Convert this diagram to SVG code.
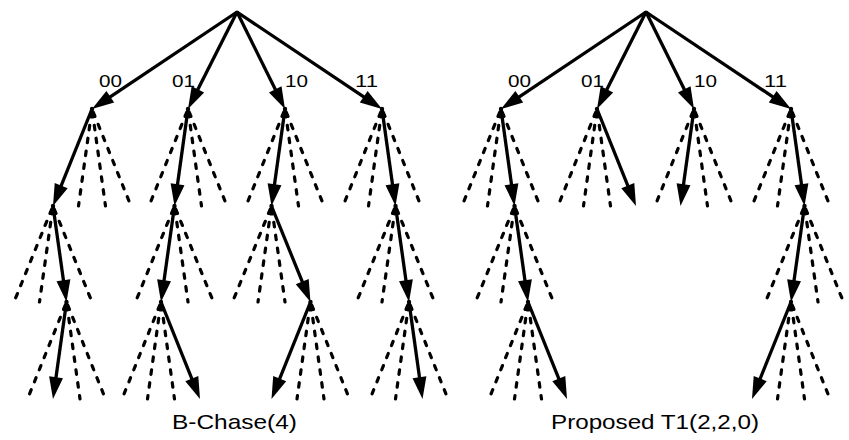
<svg xmlns="http://www.w3.org/2000/svg" width="849" height="440" viewBox="0 0 849 440">
<defs>
<marker id="ah" markerUnits="userSpaceOnUse" markerWidth="22" markerHeight="14" refX="22" refY="7" orient="auto" overflow="visible">
<path d="M0,0 L22,7 L0,14 z" fill="#000"/>
</marker>
<style>
.s{fill:none;stroke:#000;stroke-width:3.3;marker-end:url(#ah);stroke-dasharray:90 100}
.d{fill:none;stroke:#000;stroke-width:3.2;stroke-linecap:round;stroke-dasharray:4.5 8.5;stroke-dashoffset:-3.5}
.n{fill:#000}
.lb{font-family:"Liberation Sans",Arial,Helvetica,sans-serif;font-size:17px;fill:#000}
.cap{font-family:"Liberation Sans",Arial,Helvetica,sans-serif;font-size:21px;fill:#000}
</style>
</defs>
<rect width="849" height="440" fill="#fff"/>
<g id="connectors">
<path class="s" pathLength="100" d="M237,12 L92,109"/>
<path class="s" pathLength="100" d="M237,12 L188,109"/>
<path class="s" pathLength="100" d="M237,12 L285,109"/>
<path class="s" pathLength="100" d="M237,12 L382,109"/>
<path class="s" pathLength="100" d="M92,109 L53,206"/>
<path class="s" pathLength="100" d="M188,109 L174.5,206"/>
<path class="s" pathLength="100" d="M285,109 L271.5,206"/>
<path class="s" pathLength="100" d="M382,109 L395.5,206"/>
<path class="s" pathLength="100" d="M53,206 L66.5,302"/>
<path class="s" pathLength="100" d="M174.5,206 L161,302"/>
<path class="s" pathLength="100" d="M271.5,206 L310.5,302"/>
<path class="s" pathLength="100" d="M395.5,206 L409,302"/>
<path class="s" pathLength="100" d="M66.5,302 L53,399"/>
<path class="s" pathLength="100" d="M161,302 L200,399"/>
<path class="s" pathLength="100" d="M310.5,302 L271.5,399"/>
<path class="s" pathLength="100" d="M409,302 L422.5,399"/>
<path class="d" d="M92,109 L78.5,206 M92,109 L105.5,206 M92,109 L131,206"/>
<path class="d" d="M188,109 L149,206 M188,109 L201.5,206 M188,109 L227,206"/>
<path class="d" d="M285,109 L246,206 M285,109 L298.5,206 M285,109 L324,206"/>
<path class="d" d="M382,109 L343,206 M382,109 L368.5,206 M382,109 L421,206"/>
<path class="d" d="M53,206 L14,302 M53,206 L39.5,302 M53,206 L92,302"/>
<path class="d" d="M174.5,206 L135.5,302 M174.5,206 L188,302 M174.5,206 L213.5,302"/>
<path class="d" d="M271.5,206 L232.5,302 M271.5,206 L258,302 M271.5,206 L285,302"/>
<path class="d" d="M395.5,206 L356.5,302 M395.5,206 L382,302 M395.5,206 L434.5,302"/>
<path class="d" d="M66.5,302 L27.5,399 M66.5,302 L80,399 M66.5,302 L105.5,399"/>
<path class="d" d="M161,302 L122,399 M161,302 L147.5,399 M161,302 L174.5,399"/>
<path class="d" d="M310.5,302 L297,399 M310.5,302 L324,399 M310.5,302 L349.5,399"/>
<path class="d" d="M409,302 L370,399 M409,302 L395.5,399 M409,302 L448,399"/>
<path class="s" pathLength="100" d="M646,12 L501,109"/>
<path class="s" pathLength="100" d="M646,12 L597,109"/>
<path class="s" pathLength="100" d="M646,12 L694,109"/>
<path class="s" pathLength="100" d="M646,12 L791,109"/>
<path class="s" pathLength="100" d="M501,109 L514.5,206"/>
<path class="s" pathLength="100" d="M597,109 L636,206"/>
<path class="s" pathLength="100" d="M694,109 L680.5,206"/>
<path class="s" pathLength="100" d="M791,109 L804.5,206"/>
<path class="s" pathLength="100" d="M514.5,206 L528,302"/>
<path class="s" pathLength="100" d="M804.5,206 L791,302"/>
<path class="s" pathLength="100" d="M528,302 L567,399"/>
<path class="s" pathLength="100" d="M791,302 L752,399"/>
<path class="d" d="M501,109 L462,206 M501,109 L487.5,206 M501,109 L540,206"/>
<path class="d" d="M597,109 L558,206 M597,109 L583.5,206 M597,109 L610.5,206"/>
<path class="d" d="M694,109 L655,206 M694,109 L707.5,206 M694,109 L733,206"/>
<path class="d" d="M791,109 L752,206 M791,109 L777.5,206 M791,109 L830,206"/>
<path class="d" d="M514.5,206 L475.5,302 M514.5,206 L501,302 M514.5,206 L553.5,302"/>
<path class="d" d="M804.5,206 L765.5,302 M804.5,206 L818,302 M804.5,206 L843.5,302"/>
<path class="d" d="M528,302 L489,399 M528,302 L514.5,399 M528,302 L541.5,399"/>
<path class="d" d="M791,302 L777.5,399 M791,302 L804.5,399 M791,302 L830,399"/>
</g>
<g id="nodes">
<g id="L-root"><circle class="n" cx="237" cy="12" r="1.6"/></g>
<g id="L-00"><circle class="n" cx="92" cy="109" r="2.2"/></g>
<g id="L-01"><circle class="n" cx="188" cy="109" r="2.2"/></g>
<g id="L-10"><circle class="n" cx="285" cy="109" r="2.2"/></g>
<g id="L-11"><circle class="n" cx="382" cy="109" r="2.2"/></g>
<g id="L-00-2"><circle class="n" cx="53" cy="206" r="2.2"/></g>
<g id="L-01-2"><circle class="n" cx="174.5" cy="206" r="2.2"/></g>
<g id="L-10-2"><circle class="n" cx="271.5" cy="206" r="2.2"/></g>
<g id="L-11-2"><circle class="n" cx="395.5" cy="206" r="2.2"/></g>
<g id="L-00-3"><circle class="n" cx="66.5" cy="302" r="2.2"/></g>
<g id="L-01-3"><circle class="n" cx="161" cy="302" r="2.2"/></g>
<g id="L-10-3"><circle class="n" cx="310.5" cy="302" r="2.2"/></g>
<g id="L-11-3"><circle class="n" cx="409" cy="302" r="2.2"/></g>
<g id="R-root"><circle class="n" cx="646" cy="12" r="1.6"/></g>
<g id="R-00"><circle class="n" cx="501" cy="109" r="2.2"/></g>
<g id="R-01"><circle class="n" cx="597" cy="109" r="2.2"/></g>
<g id="R-10"><circle class="n" cx="694" cy="109" r="2.2"/></g>
<g id="R-11"><circle class="n" cx="791" cy="109" r="2.2"/></g>
<g id="R-00-2"><circle class="n" cx="514.5" cy="206" r="2.2"/></g>
<g id="R-11-2"><circle class="n" cx="804.5" cy="206" r="2.2"/></g>
<g id="R-00-3"><circle class="n" cx="528" cy="302" r="2.2"/></g>
<g id="R-11-3"><circle class="n" cx="791" cy="302" r="2.2"/></g>
</g>
<g id="labels">
<text class="lb" x="99" y="86.5" textLength="23" lengthAdjust="spacingAndGlyphs">00</text>
<text class="lb" x="172" y="86.5" textLength="23" lengthAdjust="spacingAndGlyphs">01</text>
<text class="lb" x="285" y="86.5" textLength="23" lengthAdjust="spacingAndGlyphs">10</text>
<text class="lb" x="355" y="86.5" textLength="23" lengthAdjust="spacingAndGlyphs">11</text>
<text class="lb" x="508" y="86.5" textLength="23" lengthAdjust="spacingAndGlyphs">00</text>
<text class="lb" x="581" y="86.5" textLength="23" lengthAdjust="spacingAndGlyphs">01</text>
<text class="lb" x="694" y="86.5" textLength="23" lengthAdjust="spacingAndGlyphs">10</text>
<text class="lb" x="764" y="86.5" textLength="23" lengthAdjust="spacingAndGlyphs">11</text>
<text class="cap" x="172" y="428.5" textLength="125" lengthAdjust="spacingAndGlyphs">B-Chase(4)</text>
<text class="cap" x="551" y="428.5" textLength="208" lengthAdjust="spacingAndGlyphs">Proposed T1(2,2,0)</text>
</g>
</svg>
